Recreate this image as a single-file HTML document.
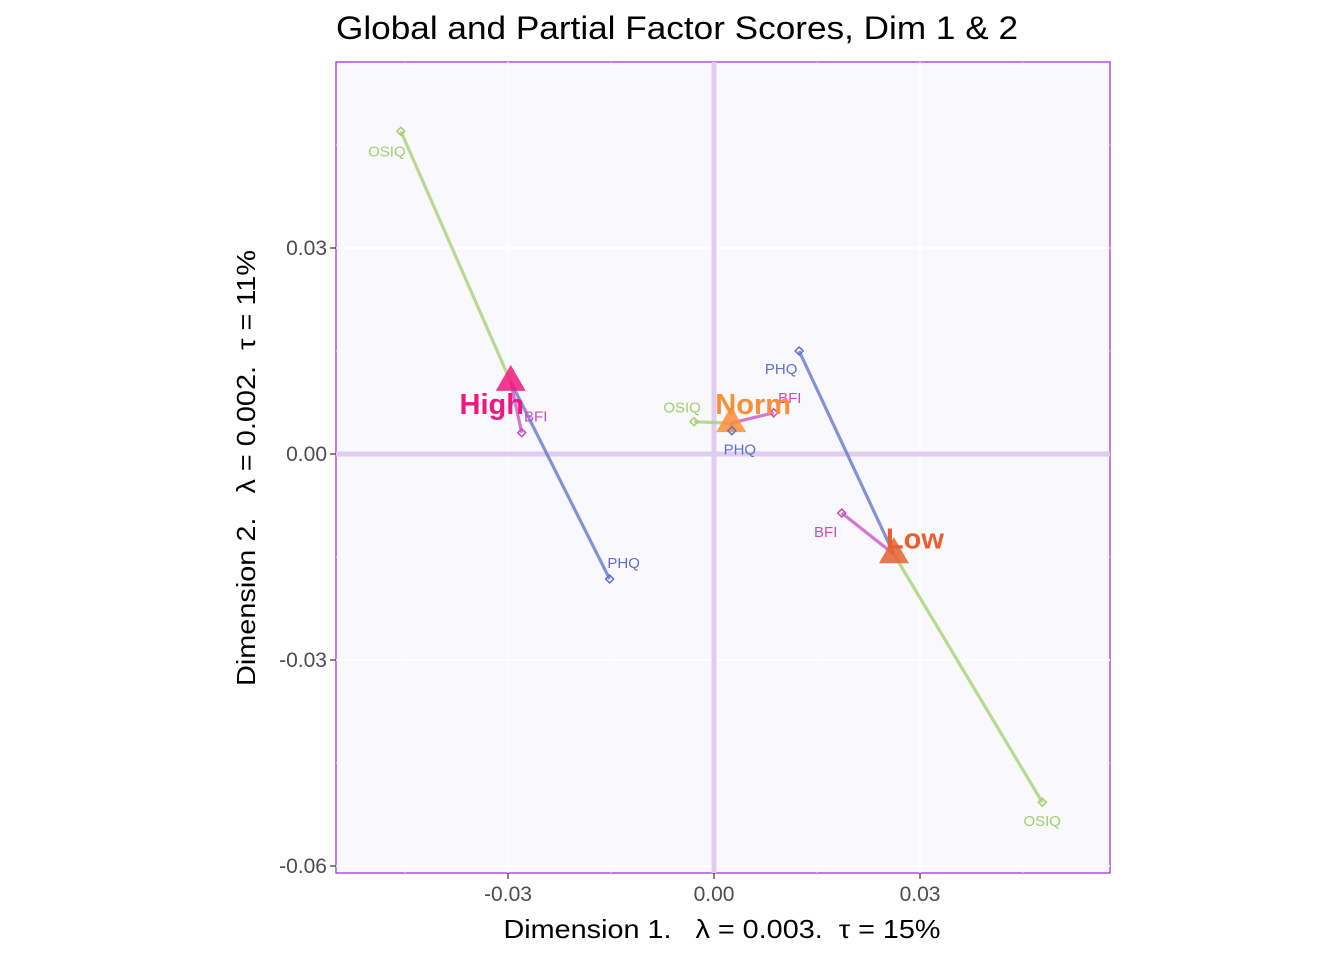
<!DOCTYPE html>
<html><head><meta charset="utf-8"><style>
body{margin:0;background:#fff;}
svg{display:block;font-family:"Liberation Sans",Arial,sans-serif;}
text{white-space:pre;}
</style></head><body>
<svg id="chart" width="1344" height="960" viewBox="0 0 1344 960" xmlns="http://www.w3.org/2000/svg" xml:space="preserve">
<text x="336" y="39" font-size="32" textLength="682" lengthAdjust="spacingAndGlyphs" fill="#000">Global and Partial Factor Scores, Dim 1 &amp; 2</text>
<rect x="336" y="62" width="774" height="811" fill="#f8f8fd" stroke="#a020f0" stroke-width="1.2"/>
<g id="grid"></g>
<g id="axes"></g>
<g id="marks"></g>
<text x="722" y="938" font-size="26" text-anchor="middle" textLength="437" lengthAdjust="spacingAndGlyphs" fill="#000">Dimension 1.   λ = 0.003.  τ = 15%</text>
<text transform="translate(255,468) rotate(-90)" font-size="26" text-anchor="middle" textLength="436" lengthAdjust="spacingAndGlyphs" fill="#000">Dimension 2.   λ = 0.002.  τ = 11%</text>
</svg>
<script>
const groups = ["High","Norm","Low"];
const groupX = [-0.0296, 0.0025, 0.0262];
const groupY = [0.0105, 0.0045, -0.0146];
const tables = ["OSIQ","PHQ","BFI"];
const partialX = [[-0.0456,-0.0152,-0.0280],[-0.0029,0.0026,0.0087],[0.0478,0.0124,0.0186]];
const partialY = [[0.0470,-0.0182,0.0031],[0.0047,0.0034,0.0060],[-0.0507,0.0150,-0.0086]];
const xTicks = [-0.03,0,0.03];
const yTicks = [0.03,0,-0.03,-0.06];
const tickLabels = {"-0.06":"-0.06","-0.03":"-0.03","0":"0.00","0.03":"0.03"};

const NS="http://www.w3.org/2000/svg";
const sx=v=>714+v/0.03*206;
const sy=v=>454-v/0.03*206;
function mk(tag,attrs,parent){const e=document.createElementNS(NS,tag);for(const k in attrs)e.setAttribute(k,attrs[k]);parent.appendChild(e);return e;}
const grid=document.getElementById('grid'),axes=document.getElementById('axes'),marks=document.getElementById('marks');
for(let v=-0.06;v<=0.061;v+=0.015){
  const maj=Math.abs(v/0.03-Math.round(v/0.03))<1e-6;
  const y=sy(v); if(y>62&&y<873){const l=mk('line',{x1:336,x2:1110,y1:y,y2:y,stroke:'#fff','stroke-width':maj?1.4:0.7},grid);
  }
  const x=sx(v); if(x>336&&x<1110){const l=mk('line',{x1:x,x2:x,y1:62,y2:873,stroke:'#fff','stroke-width':maj?1.4:0.7},grid);
  }
}
let z=mk('line',{x1:336,x2:1110,y1:sy(0),y2:sy(0),stroke:'#e2cbf0','stroke-width':5},grid);

z=mk('line',{x1:sx(0),x2:sx(0),y1:62,y2:873,stroke:'#e2cbf0','stroke-width':5},grid);

xTicks.forEach(v=>{const x=sx(v);
  const t=mk('line',{x1:x,x2:x,y1:873,y2:879,stroke:'#333','stroke-width':1.2},axes);
  
  const l=mk('text',{x:x,y:901,'font-size':21,'text-anchor':'middle',fill:'#4d4d4d'},axes);l.textContent=tickLabels[String(v)];
  });
yTicks.forEach(v=>{const y=sy(v);
  const t=mk('line',{x1:330,x2:336,y1:y,y2:y,stroke:'#333','stroke-width':1.2},axes);
  
  const l=mk('text',{x:327,y:y+7,'font-size':21,'text-anchor':'end',fill:'#4d4d4d'},axes);l.textContent=tickLabels[String(v)];
  });
const tCol={OSIQ:'#a3d06a',PHQ:'#5c70cc',BFI:'#c94cbf'};
const gCol={High:'#f0177f',Norm:'#fb8f35',Low:'#e8602d'};
groups.forEach((g,i)=>tables.forEach((t,j)=>{
  const l=mk('line',{x1:sx(groupX[i]),y1:sy(groupY[i]),x2:sx(partialX[i][j]),y2:sy(partialY[i][j]),stroke:tCol[t],'stroke-width':3.2,'stroke-opacity':0.75},marks);
  
}));
groups.forEach((g,i)=>{const x=sx(groupX[i]),y=sy(groupY[i]);
  const p=mk('polygon',{points:`${x},${y-17} ${x-15},${y+9} ${x+15},${y+9}`,fill:gCol[g],'fill-opacity':0.85},marks);
  });
const offs={OSIQ:[[-14,25],[-12,-9],[0,24]],PHQ:[[14,-11],[8,24],[-18,23]],BFI:[[14,-11],[16,-10],[-16,24]]};
groups.forEach((g,i)=>tables.forEach((t,j)=>{const x=sx(partialX[i][j]),y=sy(partialY[i][j]);
  const d=mk('polygon',{points:`${x},${y-4} ${x+4},${y} ${x},${y+4} ${x-4},${y}`,fill:'none',stroke:tCol[t],'stroke-width':1.5},marks);
  
  const o=offs[t][i];
  const l=mk('text',{x:x+o[0],y:y+o[1],'font-size':15,'text-anchor':'middle',fill:tCol[t]},marks);l.textContent=t;
  
}));
const goffs=[[-19,32],[22,-9],[21,-6]];
groups.forEach((g,i)=>{const x=sx(groupX[i]),y=sy(groupY[i]);
  const l=mk('text',{x:x+goffs[i][0],y:y+goffs[i][1],'font-size':29,'font-weight':'bold','text-anchor':'middle',fill:gCol[g]},marks);l.textContent=g;
  });
</script>
</body></html>
